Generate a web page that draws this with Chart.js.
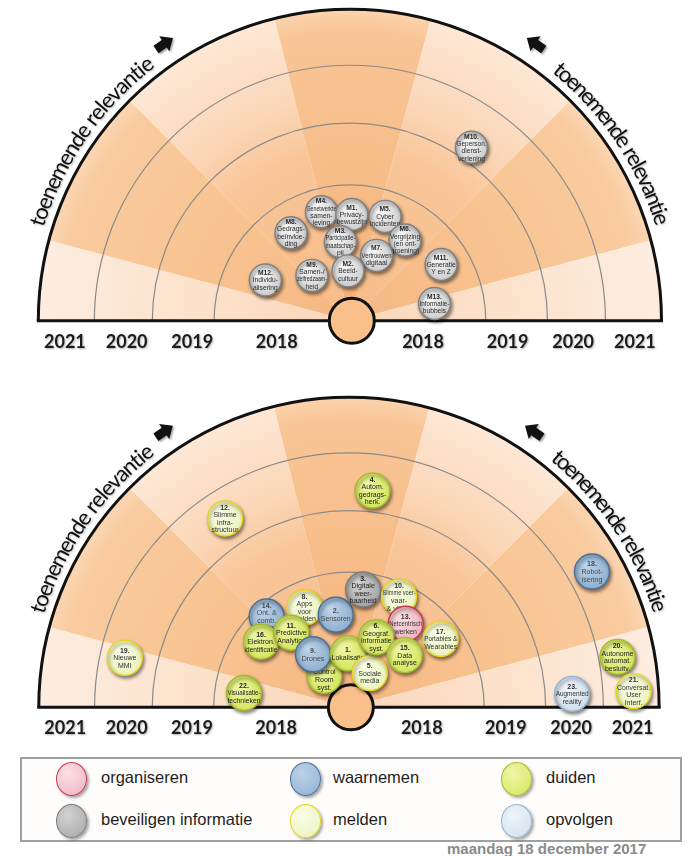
<!DOCTYPE html>
<html>
<head>
<meta charset="utf-8">
<script src="https://cdn.jsdelivr.net/npm/chart.js@4/dist/chart.umd.min.js"></script>
<style>
html,body{margin:0;padding:0;background:#fff;}
body{width:696px;height:856px;overflow:hidden;position:relative;font-family:'Liberation Sans Narrow','Liberation Sans',Arial,sans-serif;}
#c1{position:absolute;left:0;top:0;}
#c2{position:absolute;left:0;top:380px;}
#legend{position:absolute;left:20px;top:757px;width:662px;height:85px;box-sizing:border-box;border:2px solid #a0a0a0;background:#fffdfb;}
.dot{position:absolute;width:31px;height:34px;border-radius:50%;box-sizing:border-box;border:1.5px solid;box-shadow:2px 2px 3px rgba(0,0,0,.35);}
.lab{position:absolute;font-size:16.5px;color:#1e1e1e;line-height:18px;white-space:nowrap;}
#date{position:absolute;left:447px;top:841px;font-size:15px;font-weight:bold;color:#8a8a8a;line-height:16px;white-space:nowrap;}
</style>
</head>
<body>
<canvas id="c1" width="696" height="380"></canvas>
<canvas id="c2" width="696" height="375"></canvas>
<div id="legend"></div>
<div id="date">maandag 18 december 2017</div>
<script>
// ---------- axis structure ----------
const yearLabels = ['2018', '2019', '2020', '2021'];
const ringRadius = [143, 208, 269, 328];
const yearTickPos = [77, 166, 235, 300];
const arcTitle = 'toenemende relevantie';

// ---------- top chart: maatschappelijke trends ----------
const trendIds = ['M4.', 'M1.', 'M5.', 'M6.', 'M7.', 'M8.', 'M3.', 'M2.', 'M9.', 'M12.', 'M11.', 'M13.', 'M10.'];
const trendText = [
  ['Genetwerkte', 'samen-', 'leving'],
  ['Privacy-', 'bewustzijn'],
  ['Cyber', 'incidenten'],
  ['Vergrijzing', '(en ont-', 'groening)'],
  ['Vertrouwen', 'digitaal'],
  ['Gedrags-', 'beïnvloe-', 'ding'],
  ['Participatie-', 'maatschap-', 'pij'],
  ['Beeld-', 'cultuur'],
  ['Samen-/', 'zelfredzaam-', 'heid'],
  ['Individu-', 'alisering'],
  ['Generatie', 'Y en Z'],
  ['Informatie-', 'bubbels'],
  ['Geperson.', 'dienst-', 'verlening']
];
const trendX = [-30, 2, 37, 58, 28, -62, -10, -2, -40, -89, 96, 89, 128];
const trendY = [120, 117, 115, 89, 72, 97, 87, 55, 50, 45, 62, 19, 191];

// ---------- bottom chart: technologieën ----------
const techIds = ['14.', '8.', '16.', '11.', '7.', '9.', '2.', '1.', '5.', '3.', '10.', '13.', '6.', '15.', '17.', '4.', '12.', '18.', '19.', '20.', '21.', '22.', '23.'];
const techText = [
  ['Ont. &', 'comb.', 'van data'],
  ['Apps', 'voor', 'melden'],
  ['Elektron.', 'identificatie'],
  ['Predictive', 'Analytics'],
  ['Control', 'Room', 'syst.'],
  ['Drones'],
  ['Sensoren'],
  ['Lokalisatie'],
  ['Sociale', 'media'],
  ['Digitale', 'weer-', 'baarheid'],
  ['Slimme voer-', 'vaar-', '& vliegt.'],
  ['Netcentrisch', 'werken'],
  ['Geograf.', 'informatie', 'syst.'],
  ['Data', 'analyse'],
  ['Portables &', 'Wearables'],
  ['Autom.', 'gedrags-', 'herk.'],
  ['Slimme', 'infra-', 'structuur'],
  ['Robot-', 'isering'],
  ['Nieuwe', 'MMI'],
  ['Autonome', 'automat.', 'besluitv.'],
  ['Conversat.', 'User', 'Interf.'],
  ['Visualisatie-', 'technieken'],
  ['Augmented', 'reality']
];
const techGroup = ['waarnemen', 'melden', 'duiden', 'duiden', 'duiden', 'waarnemen', 'waarnemen', 'duiden', 'melden', 'beveiligen informatie', 'melden', 'organiseren', 'duiden', 'duiden', 'melden', 'duiden', 'melden', 'waarnemen', 'melden', 'duiden', 'melden', 'duiden', 'opvolgen'];
const techX = [-87, -47, -93, -61, -26, -38, -14, -1, 22, 15, 53, 60, 29, 59, 97, 25, -131, 257, -237, 284, 301, -111, 236];
const techY = [101, 111, 73, 83, 35, 59, 103, 60, 38, 131, 123, 93, 78, 58, 76, 241, 210, 151, 55, 56, 18, 16, 15];

// ---------- legend ----------
const legendGroups = ['organiseren', 'waarnemen', 'duiden', 'beveiligen informatie', 'melden', 'opvolgen'];

// ---------- styles ----------
const groupStyle = {
  'organiseren': {fill: '#f0b3be', light: '#fbe0e5', border: '#c73a52', text: '#333'},
  'beveiligen informatie': {fill: '#a6a6a6', light: '#d2d2d2', border: '#7c7c7c', text: '#222'},
  'waarnemen': {fill: '#8fb0d1', light: '#bcd2e8', border: '#4d6f96', text: '#4a4a4a'},
  'duiden': {fill: '#d4e65e', light: '#eef6a6', border: '#a5bb2c', text: '#222'},
  'melden': {fill: '#ebf3bd', light: '#f9fce6', border: '#e9d51d', text: '#333'},
  'opvolgen': {fill: '#d2dfeb', light: '#eef4f9', border: '#8fb3d6', text: '#333'},
  'trend': {fill: '#cdcdcd', light: '#f7f7f7', border: '#808080', text: '#2a2a2a'}
};
const wedges = [
  [0, 15, 'A'], [15, 45, 'B'], [45, 76, 'C'], [76, 105, 'D'], [105, 135, 'C'], [135, 165, 'B'], [165, 180, 'A']
];
const wedgeStops = {
  A: [[0, '#fad7ba'], [0.5, '#fce2cb'], [1, '#fdede0']],
  B: [[0, '#f6b783'], [0.5, '#f8c390'], [0.93, '#f9cb9f'], [1, '#fbd6b3']],
  C: [[0, '#f7bb87'], [0.55, '#f9c699'], [0.72, '#fbd7b8'], [1, '#fde8d6']],
  D: [[0, '#f5b27b'], [0.5, '#f7bd89'], [0.93, '#f9c596'], [1, '#fbd4ae']]
};

function radGrad(ctx, x, y, r, light, base) {
  const g = ctx.createRadialGradient(x - r * 0.3, y - r * 0.35, r * 0.1, x, y, r);
  g.addColorStop(0, light);
  g.addColorStop(1, base);
  return g;
}

function drawArcText(ctx, cx, cy, rb, text, a0, a1) {
  ctx.save();
  ctx.font = '22px Lato';
  ctx.fillStyle = '#101010';
  ctx.shadowColor = 'rgba(0,0,0,0.28)';
  ctx.shadowBlur = 2; ctx.shadowOffsetX = 1; ctx.shadowOffsetY = 1;
  ctx.textBaseline = 'alphabetic';
  const chars = [...text];
  const widths = chars.map(c => ctx.measureText(c).width);
  const total = widths.reduce((s, w) => s + w, 0);
  const k = (a1 - a0) * rb / total;
  let acc = 0;
  chars.forEach((c, i) => {
    const mid = a0 + (acc + widths[i] / 2) * k / rb;
    ctx.save();
    ctx.translate(cx + rb * Math.cos(mid), cy + rb * Math.sin(mid));
    ctx.rotate(mid + Math.PI / 2);
    ctx.fillText(c, -widths[i] / 2, 0);
    ctx.restore();
    acc += widths[i];
  });
  ctx.restore();
}

function drawArrow(ctx, x, y, rot) {
  ctx.save();
  ctx.translate(x, y);
  ctx.rotate(rot);
  ctx.shadowColor = 'rgba(0,0,0,0.35)';
  ctx.shadowBlur = 2; ctx.shadowOffsetX = 1.5; ctx.shadowOffsetY = 1.5;
  ctx.fillStyle = '#111';
  ctx.beginPath();
  ctx.moveTo(-9, -4.5); ctx.lineTo(1, -4.5); ctx.lineTo(1, -9); ctx.lineTo(11.5, 0);
  ctx.lineTo(1, 9); ctx.lineTo(1, 4.5); ctx.lineTo(-9, 4.5); ctx.closePath();
  ctx.fill();
  ctx.restore();
}

const backgroundPlugin = {
  id: 'radarBackground',
  beforeDatasetsDraw(chart) {
    const ctx = chart.ctx;
    const xs = chart.scales.x, ys = chart.scales.y;
    const cx = xs.getPixelForValue(0), cy = ys.getPixelForValue(0);
    const R = xs.getPixelForValue(ringRadius[3]) - cx;
    const D = Math.PI / 180;
    ctx.save();
    wedges.forEach(([a0, a1, t]) => {
      const g = ctx.createRadialGradient(cx, cy, 0, cx, cy, R);
      wedgeStops[t].forEach(([o, c]) => g.addColorStop(o, c));
      ctx.beginPath();
      ctx.moveTo(cx, cy);
      ctx.arc(cx, cy, R, Math.PI + a0 * D, Math.PI + a1 * D);
      ctx.closePath();
      ctx.fillStyle = g;
      ctx.fill();
    });
    ctx.strokeStyle = '#8a8a8a';
    ctx.lineWidth = 1.2;
    ringRadius.slice(0, 3).forEach(rv => {
      const r = xs.getPixelForValue(rv) - cx;
      ctx.beginPath();
      ctx.arc(cx, cy, r, Math.PI, 2 * Math.PI);
      ctx.stroke();
    });
    ctx.strokeStyle = '#111';
    ctx.lineWidth = 3;
    ctx.beginPath();
    ctx.arc(cx, cy, R, Math.PI, 2 * Math.PI);
    ctx.stroke();
    ctx.beginPath();
    ctx.moveTo(cx - R - 1.5, cy);
    ctx.lineTo(cx + R + 1.5, cy);
    ctx.stroke();
    const hx = xs.getPixelForValue(2);
    ctx.beginPath();
    ctx.arc(hx, cy, 22.5, 0, 2 * Math.PI);
    ctx.fillStyle = '#f9c08b';
    ctx.fill();
    ctx.lineWidth = 3;
    ctx.strokeStyle = '#111';
    ctx.stroke();
    ctx.font = 'bold 18px Lato';
    ctx.fillStyle = '#1c1c1c';
    ctx.textAlign = 'center';
    ctx.textBaseline = 'middle';
    ctx.shadowColor = 'rgba(0,0,0,0.3)';
    ctx.shadowBlur = 2; ctx.shadowOffsetX = 1; ctx.shadowOffsetY = 1;
    yearLabels.forEach((lab, i) => {
      const ly = ys.getPixelForValue(-23);
      ctx.fillText(lab, xs.getPixelForValue(-yearTickPos[i]), ly);
      ctx.fillText(lab, xs.getPixelForValue(yearTickPos[i]), ly);
    });
    ctx.restore();
    const rb = xs.getPixelForValue(337) - cx;
    drawArcText(ctx, cx, cy, rb, arcTitle, Math.PI + 17 * D, Math.PI + 52.5 * D);
    drawArcText(ctx, cx, cy, rb, arcTitle, Math.PI + 129.2 * D, Math.PI + 162.7 * D);
    const ra = xs.getPixelForValue(351) - cx;
    const aL = Math.PI + 56 * D, aR = Math.PI + 124 * D;
    drawArrow(ctx, cx + ra * Math.cos(aL), cy + ra * Math.sin(aL), aL + Math.PI / 2);
    drawArrow(ctx, cx + ra * Math.cos(aR), cy + ra * Math.sin(aR), aR - Math.PI / 2);
  }
};

const bubblePlugin = {
  id: 'bubbleDrawer',
  beforeDatasetDraw(chart, args) {
    const ctx = chart.ctx;
    const meta = args.meta;
    const ds = chart.data.datasets[args.index];
    meta.data.forEach((el, i) => {
      ctx.save();
      ctx.shadowColor = 'rgba(0,0,0,0.45)';
      ctx.shadowBlur = 3.5; ctx.shadowOffsetX = 1.5; ctx.shadowOffsetY = 2.5;
      el.draw(ctx);
      ctx.restore();
      const st = groupStyle[ds.groups[i]];
      const lines = [ds.ids[i]].concat(ds.texts[i]);
      const lh = ds.lineH;
      const y0 = el.y - (lines.length - 1) * lh / 2;
      ctx.save();
      ctx.fillStyle = st.text;
      ctx.textAlign = 'center';
      ctx.textBaseline = 'middle';
      lines.forEach((ln, j) => {
        ctx.font = (j === 0 ? 'bold ' : '') + ds.fontPx + "px 'Liberation Sans Narrow', 'Liberation Sans', Arial";
        ctx.fillText(ln, el.x, y0 + j * lh + 0.5, ds.bubbleR * 2 - 2);
      });
      ctx.restore();
    });
    return false;
  }
};

function makeChart(canvasId, xs, ys, ids, texts, groups, xMin, xMax, yMin, yMax, rad, fontPx, lineH) {
  const pts = xs.map((v, i) => ({x: v, y: ys[i]}));
  return new Chart(document.getElementById(canvasId), {
    type: 'bubble',
    data: {
      datasets: [{
        data: pts,
        ids: ids, texts: texts, groups: groups,
        bubbleR: rad, fontPx: fontPx, lineH: lineH,
        radius: rad,
        borderWidth: 1.4,
        clip: false,
        backgroundColor: (c) => {
          if (c.type !== 'data' || !c.raw) return '#cccccc';
          const st = groupStyle[groups[c.dataIndex]];
          const ch = c.chart;
          const px = ch.scales.x ? ch.scales.x.getPixelForValue(c.raw.x) : NaN;
          const py = ch.scales.y ? ch.scales.y.getPixelForValue(c.raw.y) : NaN;
          if (!isFinite(px) || !isFinite(py)) return st.fill;
          return radGrad(ch.ctx, px, py, rad, st.light, st.fill);
        },
        borderColor: (c) => {
          if (c.type !== 'data') return '#888888';
          return groupStyle[groups[c.dataIndex]].border;
        }
      }]
    },
    options: {
      responsive: false,
      animation: false,
      events: [],
      layout: {padding: 0},
      plugins: {legend: {display: false}, tooltip: {enabled: false}},
      scales: {
        x: {type: 'linear', min: xMin, max: xMax, display: false},
        y: {type: 'linear', min: yMin, max: yMax, display: false}
      }
    },
    plugins: [backgroundPlugin, bubblePlugin]
  });
}

makeChart('c1', trendX, trendY, trendIds, trendText, trendIds.map(() => 'trend'), -350, 346, -46, 334, 16, 6.7, 7.3);
makeChart('c2', techX, techY, techIds, techText, techGroup, -349, 347, -32, 343, 17.5, 7, 7.6);

const legend = document.getElementById('legend');
const colDot = [34, 268, 479], colLab = [79, 311, 524], rowTop = [3, 45];
legendGroups.forEach((g, i) => {
  const st = groupStyle[g];
  const col = i % 3, row = Math.floor(i / 3);
  const d = document.createElement('div');
  d.className = 'dot';
  d.style.left = colDot[col] + 'px';
  d.style.top = rowTop[row] + 'px';
  d.style.borderColor = st.border;
  d.style.background = 'radial-gradient(circle at 38% 33%, ' + st.light + ', ' + st.fill + ')';
  legend.appendChild(d);
  const l = document.createElement('div');
  l.className = 'lab';
  l.textContent = g;
  l.style.left = colLab[col] + 'px';
  l.style.top = (rowTop[row] + 6) + 'px';
  legend.appendChild(l);
});
</script>
</body>
</html>
